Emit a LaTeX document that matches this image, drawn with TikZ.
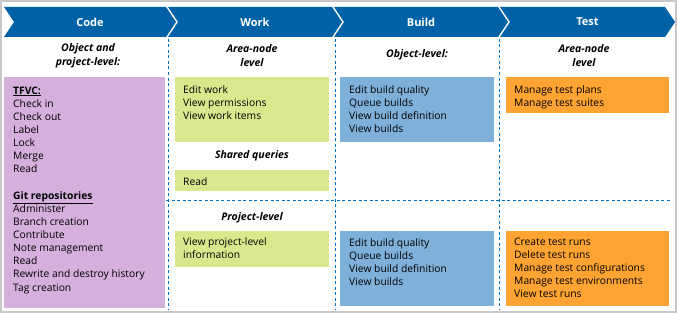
\documentclass[tikz,border=0pt]{standalone}
\usepackage{fontspec}
\setmainfont{Open Sans}
\usetikzlibrary{positioning,calc}
\definecolor{HeaderBlue}{RGB}{0,98,166}
\definecolor{LaneDash}{RGB}{0,112,192}
\definecolor{CodePurple}{RGB}{213,176,220}
\definecolor{WorkGreen}{RGB}{215,233,140}
\definecolor{BuildBlue}{RGB}{126,176,218}
\definecolor{TestOrange}{RGB}{255,164,51}
\definecolor{FrameGray}{RGB}{200,200,200}

\begin{document}
\begin{tikzpicture}[x=1pt, y=-1pt,
  every node/.style={inner sep=0pt, font=\fontsize{10.3}{13.13}\selectfont},
  chevtext/.style={text=white, font=\fontsize{11}{12}\selectfont\bfseries},
  levelhead/.style={align=center, font=\fontsize{10.5}{14}\selectfont\bfseries\itshape},
  permbox/.style={anchor=north west},
  permlist/.style={anchor=north west, align=left},
  lane/.style={LaneDash, dash pattern=on 3pt off 2.5pt, line width=1pt}]
  \useasboundingbox (0,0) rectangle (677,313);
  \draw[FrameGray, line width=1.5pt] (1,1) rectangle (676,312);

  % header chevrons
  \foreach \xa/\xb/\lbl/\nm in {4/166/Code/codehead, 168/332/Work/workhead, 334/498/Build/buildhead, 500/665/Test/testhead} {
    \fill[HeaderBlue] (\xa,7) -- (\xb,7) -- (\xb+10,22) -- (\xb,37) -- (\xa,37) -- (\xa+10,22) -- cycle;
    \node[chevtext] (\nm) at ({(\xa+\xb)/2+5},22) {\lbl};
  }

  % lanes
  \foreach \x in {168,335,499}
    \draw[lane] (\x,39) -- (\x,310);
  \draw[lane] (166,200) -- (672,200);

  % level headings
  \node[levelhead] (codelevel) at (88,56) {Object and\\project-level:};
  \node[levelhead] (worklevel) at (252,56) {Area-node\\level};
  \node[levelhead] (sharedlevel) at (252,156) {Shared queries};
  \node[levelhead] (projlevel) at (252,218) {Project-level};
  \node[levelhead] (buildlevel) at (417,55) {Object-level:};
  \node[levelhead] (testlevel) at (584,56) {Area-node\\level};

  % permission boxes
  \node[permbox, fill=CodePurple, minimum width=161pt, minimum height=231pt] (codebox) at (4,77) {};
  \node[permbox, fill=WorkGreen, minimum width=154pt, minimum height=65pt] (workarea) at (175,77) {};
  \node[permbox, fill=WorkGreen, minimum width=154pt, minimum height=21pt] (workshared) at (175,170) {};
  \node[permbox, fill=WorkGreen, minimum width=154pt, minimum height=36pt] (workproj) at (175,231) {};
  \node[permbox, fill=BuildBlue, minimum width=154pt, minimum height=65pt] (buildobj) at (340,77) {};
  \node[permbox, fill=BuildBlue, minimum width=154pt, minimum height=75pt] (buildproj) at (340,231) {};
  \node[permbox, fill=TestOrange, minimum width=163pt, minimum height=36pt] (testarea) at (506,77) {};
  \node[permbox, fill=TestOrange, minimum width=163pt, minimum height=75pt] (testproj) at (506,231) {};

  % permission lists
  \node[permlist] (codelist) at (13,86.5) {\textbf{\underline{TFVC:}}\\Check in\\Check out\\Label\\Lock\\Merge\\Read\\[13.13pt]\textbf{\underline{Git repositories}}\\Administer\\Branch creation\\Contribute\\Note management\\Read\\Rewrite and destroy history\\Tag creation};
  \node[permlist] (worklist) at (183,85.5) {Edit work\\View permissions\\View work items};
  \node[permlist] (sharedlist) at (183,177.5) {Read};
  \node[permlist] (projlist) at (183,237.5) {View project-level\\information};
  \node[permlist] (buildlist) at (349,85.5) {Edit build quality\\Queue builds\\View build definition\\View builds};
  \node[permlist] (buildprojlist) at (349,238) {Edit build quality\\Queue builds\\View build definition\\View builds};
  \node[permlist] (testlist) at (514,85.5) {Manage test plans\\Manage test suites};
  \node[permlist] (testprojlist) at (514,237.5) {Create test runs\\Delete test runs\\Manage test configurations\\Manage test environments\\View test runs};
\end{tikzpicture}
\end{document}
